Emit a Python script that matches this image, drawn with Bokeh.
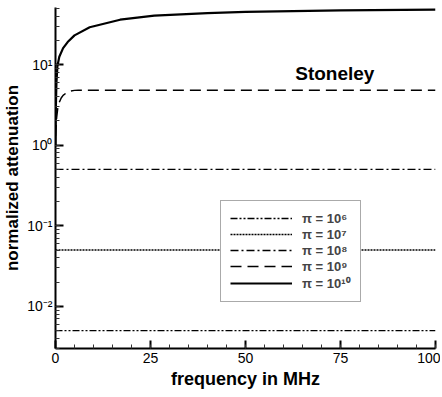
from bokeh.plotting import figure
from bokeh.models import Range1d, LogTicker, FixedTicker, Legend, LegendItem
from bokeh.core.properties import value
from bokeh.embed import file_html
from bokeh.resources import INLINE

# data
freq_const = [0, 100]
att_pi6 = [0.005, 0.005]
att_pi7 = [0.05, 0.05]
att_pi8 = [0.5, 0.5]
freq_pi9 = [0.0, 0.3, 0.6, 1.0, 1.5, 2.0, 3.0, 4.0, 5.0, 6.0, 100.0]
att_pi9 = [1.3, 2.2, 2.9, 3.4, 3.85, 4.15, 4.5, 4.7, 4.78, 4.8, 4.8]
freq_pi10 = [0.0, 0.1, 0.25, 0.5, 1.0, 2.0, 3.2, 5.0, 9.0, 17.0, 26.0, 40.0, 50.0, 75.0, 100.0]
att_pi10 = [1.0, 3.0, 6.0, 9.5, 12.5, 16.0, 19.0, 23.0, 29.0, 36.0, 40.5, 43.5, 45.0, 47.0, 48.0]
x_ticks = [0, 25, 50, 75, 100]
x_minor_ticks = list(range(0, 101, 5))
y_tick_labels = {0.01: "10⁻²", 0.1: "10⁻¹", 1: "10⁰", 10: "10¹"}
legend_labels = ["π = 10⁶", "π = 10⁷", "π = 10⁸", "π = 10⁹", "π = 10¹⁰"]

FONT = "Liberation Sans"

p = figure(frame_width=380, frame_height=341, y_axis_type="log",
           x_range=Range1d(0, 100), y_range=Range1d(0.003, 51),
           output_backend="svg", toolbar_location=None,
           min_border_left=45, min_border_right=5, min_border_top=7, min_border_bottom=40)
p.outline_line_color = None
p.xgrid.visible = False
p.ygrid.visible = False

r6 = p.line(freq_const, att_pi6, line_color="black", line_width=1.3, line_dash="7 2 2 2 2 2")
r7 = p.line(freq_const, att_pi7, line_color="black", line_width=1.3, line_dash="2 1")
r8 = p.line(freq_const, att_pi8, line_color="black", line_width=1.3, line_dash="8 3 2 3")
r9 = p.line(freq_pi9, att_pi9, line_color="black", line_width=1.5, line_dash="11 6")
r10 = p.line(freq_pi10, att_pi10, line_color="black", line_width=2.2)

p.text(x=[73.5], y=[7.8], text=["Stoneley"], text_font=value(FONT), text_font_style="bold",
       text_font_size="19px", text_align="center", text_baseline="middle", text_color="black")

for ax in (p.xaxis[0], p.yaxis[0]):
    ax.axis_line_width = 2
    ax.axis_line_color = "black"
    ax.major_tick_in = 8
    ax.major_tick_out = 0
    ax.minor_tick_in = 4
    ax.minor_tick_out = 0
    ax.major_tick_line_width = 2
    ax.major_tick_line_color = "black"
    ax.minor_tick_line_color = "#333333"
    ax.minor_tick_line_width = 1
    ax.major_label_text_font = FONT
    ax.major_label_text_font_size = "14px"
    ax.major_label_text_color = "black"
    ax.axis_label_text_font = FONT
    ax.axis_label_text_font_style = "bold"
    ax.axis_label_text_color = "black"

p.xaxis.ticker = FixedTicker(ticks=x_ticks, minor_ticks=x_minor_ticks)
p.xaxis.axis_label = "frequency in MHz"
p.xaxis.axis_label_text_font_size = "18px"
p.xaxis.major_label_standoff = 4
p.xaxis.axis_label_standoff = 3

p.yaxis.ticker = LogTicker(num_minor_ticks=10)
p.yaxis.major_label_overrides = y_tick_labels
p.yaxis.axis_label = "normalized attenuation"
p.yaxis.axis_label_text_font_size = "17px"
p.yaxis.major_label_standoff = 3
p.yaxis.axis_label_standoff = 2

items = [LegendItem(label=l, renderers=[r]) for l, r in zip(legend_labels, [r6, r7, r8, r9, r10])]
legend = Legend(items=items, location=(165, 46))
legend.border_line_color = "#555555"
legend.border_line_width = 1
legend.background_fill_alpha = 1
legend.label_text_font = FONT
legend.label_text_font_style = "bold"
legend.label_text_font_size = "13px"
legend.glyph_width = 62
legend.glyph_height = 16
legend.label_height = 16
legend.spacing = 0
legend.padding = 9
legend.margin = 0
legend.label_standoff = 10
p.add_layout(legend)

open("out.html", "w").write(file_html(p, INLINE))
